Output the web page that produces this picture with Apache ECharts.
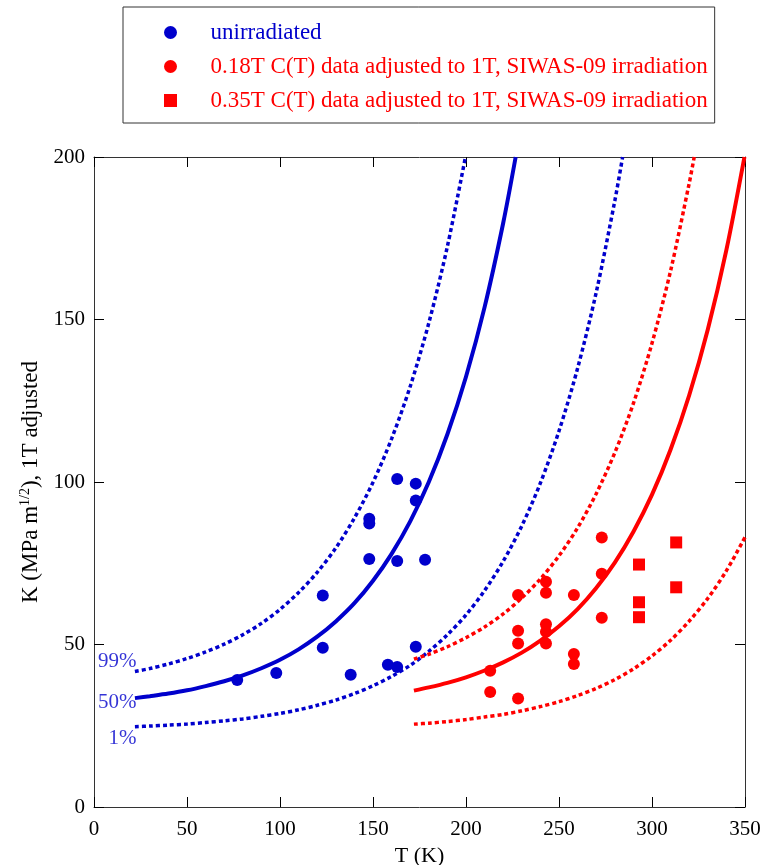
<!DOCTYPE html>
<html>
<head>
<meta charset="utf-8">
<script src="https://cdn.jsdelivr.net/npm/echarts@6/dist/echarts.min.js"></script>
<style>
html,body{margin:0;padding:0;background:#fff;}
#chart{width:763px;height:865px;}
</style>
</head>
<body>
<div id="chart"></div>
<script>
/*****  data  *****/
var xTicks = [0, 50, 100, 150, 200, 250, 300, 350];
var yTicks = [0, 50, 100, 150, 200];

// master curves, unirradiated (blue) : [T, K]
var blue50 = [[22,33.5],[30,34.1],[40,34.9],[50,35.9],[60,37.2],[70,38.7],[80,40.5],[90,42.7],[100,45.3],[110,48.5],[120,52.4],[130,57.1],[140,62.7],[150,69.6],[160,77.9],[170,87.9],[180,100],[190,114.7],[200,132.4],[210,153.8],[220,179.7],[226.7,200]];
var blue99 = [[22,41.7],[30,42.6],[40,44.0],[50,45.7],[60,47.7],[70,50.1],[80,53.0],[90,56.5],[100,60.8],[110,66.0],[120,72.2],[130,79.7],[140,88.9],[150,99.9],[160,113.3],[170,129.4],[180,148.9],[190,172.5],[199.7,200]];
var blue1 = [[22,24.7],[30,24.9],[40,25.2],[50,25.5],[60,26.0],[70,26.5],[80,27.1],[90,27.9],[100,28.8],[110,29.9],[120,31.3],[130,32.9],[140,34.9],[150,37.3],[160,40.2],[170,43.6],[180,47.9],[190,53.0],[200,59.1],[210,66.6],[220,75.6],[230,86.5],[240,99.7],[250,115.7],[260,135.0],[270,158.3],[280,186.5],[284.2,200]];

// master curves, irradiated (red)
var red50 = [[172,35.8],[180,36.8],[190,38.2],[200,39.9],[210,42.0],[220,44.5],[230,47.5],[240,51.2],[250,55.6],[260,60.9],[270,67.4],[280,75.2],[290,84.7],[300,96.1],[310,110.0],[320,126.7],[330,146.9],[340,171.4],[349.7,200]];
var red99 = [[172,45.5],[180,47.0],[190,49.3],[200,52.1],[210,55.4],[220,59.4],[230,64.3],[240,70.2],[250,77.3],[260,85.9],[270,96.4],[280,109.0],[290,124.2],[300,142.7],[310,165.0],[320,191.9],[322.7,200]];
var red1 = [[172,25.5],[180,25.8],[190,26.3],[200,26.9],[210,27.7],[220,28.5],[230,29.6],[240,30.9],[250,32.4],[260,34.3],[270,36.5],[280,39.2],[290,42.5],[300,46.5],[310,51.3],[320,57.2],[330,64.2],[340,72.7],[350,83.0]];

// measured points
var unirr = [[77,39.1],[98,41.2],[123,65.1],[123,49.0],[138,40.7],[148,88.7],[148,87.2],[148,76.3],[158,43.8],[163,100.9],[163,75.7],[163,43.1],[173,99.5],[173,94.3],[173,49.3],[178,76.1]];
var irr018 = [[213,41.9],[213,35.4],[228,65.2],[228,54.2],[228,50.3],[228,33.4],[243,69.3],[243,65.9],[243,56.2],[243,53.9],[243,50.3],[258,65.2],[258,47.1],[258,44.0],[273,82.9],[273,71.8],[273,58.2]];
var irr035 = [[293,74.6],[293,63.0],[293,58.4],[313,81.4],[313,67.6]];

var pctNames = ['99%', '50%', '1%'];
var pctAt = [[22,41.7],[22,33.5],[22,24.7]];

var names = ['unirradiated',
	'0.18T C(T) data adjusted to 1T, SIWAS-09 irradiation',
	'0.35T C(T) data adjusted to 1T, SIWAS-09 irradiation'];

/*****  chart  *****/
var BLUE = '#0000cc';
var RED = '#ff0000';
var FONT = '"Liberation Serif", "DejaVu Serif", serif';
var pctOffsets = [[2,-10],[2,4],[2,12]];

var chart = echarts.init(document.getElementById('chart'));

function curve(data, color, dotted){
	return {
		type: 'line',
		data: data,
		showSymbol: false,
		symbol: 'none',
		smooth: 0.3,
		silent: true,
		z: 2,
		lineStyle: {
			color: color,
			width: dotted ? 3.5 : 4,
			type: dotted ? [4, 3] : 'solid'
		}
	};
}

var pctData = [];
for (var i = 0; i < pctNames.length; i++) {
	pctData.push({
		value: pctAt[i],
		name: pctNames[i],
		label: {offset: pctOffsets[i]}
	});
}

function baseX(pos, show){
	return {
		type: 'value', position: pos, min: 0, max: 350, interval: 50,
		axisLine: {show: true, onZero: false, lineStyle: {color: '#333', width: 1}},
		axisTick: {show: true, inside: true, length: 10, lineStyle: {color: '#000'}},
		axisLabel: {show: show, color: '#000', fontSize: 21, fontFamily: FONT, margin: 12},
		splitLine: {show: false}
	};
}
function baseY(pos, show){
	return {
		type: 'value', position: pos, min: 0, max: 200, interval: 50,
		axisLine: {show: true, onZero: false, lineStyle: {color: '#333', width: 1}},
		axisTick: {show: true, inside: true, length: 10, lineStyle: {color: '#000'}},
		axisLabel: {show: show, color: '#000', fontSize: 21, fontFamily: FONT, margin: 9},
		splitLine: {show: false}
	};
}

var xMain = baseX('bottom', true);
xMain.name = 'T (K)';
xMain.nameLocation = 'middle';
xMain.nameGap = 35;
xMain.nameTextStyle = {color: '#000', fontSize: 22, fontFamily: FONT};

var yMain = baseY('left', true);
yMain.name = 'K (MPa m{sup|1/2}), 1T adjusted';
yMain.nameLocation = 'middle';
yMain.nameGap = 48;
yMain.nameTextStyle = {
	color: '#000', fontSize: 23, fontFamily: FONT,
	rich: {sup: {fontSize: 14, fontFamily: FONT, color: '#000', padding: [0, 0, 11, 0]}}
};

option = {
	backgroundColor: '#fff',
	animation: false,
	grid: {left: 94, right: 18, top: 157, bottom: 58, containLabel: false, outerBoundsMode: 'none'},
	legend: {
		orient: 'vertical',
		left: 123,
		top: 7,
		padding: [14, 7, 11, 41],
		itemGap: 11,
		itemWidth: 70,
		itemHeight: 13,
		selectedMode: false,
		borderColor: '#333',
		borderWidth: 1,
		textStyle: {fontSize: 23, fontFamily: FONT},
		data: [
			{name: names[0], icon: 'circle', textStyle: {color: BLUE}},
			{name: names[1], icon: 'circle', textStyle: {color: RED}},
			{name: names[2], icon: 'path://M0,0L10,0L10,10L0,10Z', textStyle: {color: RED}}
		]
	},
	xAxis: [xMain, baseX('top', false)],
	yAxis: [yMain, baseY('right', false)],
	series: [
		curve(blue99, BLUE, true),
		curve(blue50, BLUE, false),
		curve(blue1, BLUE, true),
		curve(red99, RED, true),
		curve(red50, RED, false),
		curve(red1, RED, true),
		{
			name: names[0], type: 'scatter', symbol: 'circle', symbolSize: 12,
			itemStyle: {color: BLUE, opacity: 1}, z: 5, data: unirr
		},
		{
			name: names[1], type: 'scatter', symbol: 'circle', symbolSize: 12,
			itemStyle: {color: RED, opacity: 1}, z: 5, data: irr018
		},
		{
			name: names[2], type: 'scatter', symbol: 'rect', symbolSize: 12,
			itemStyle: {color: RED, opacity: 1}, z: 5, data: irr035
		},
		{
			type: 'scatter', symbolSize: 1, silent: true, z: 6,
			itemStyle: {color: 'rgba(0,0,0,0)'},
			label: {
				show: true, position: 'left', distance: 0,
				formatter: '{b}', color: BLUE, fontSize: 21, fontFamily: FONT
			},
			data: pctData
		}
	]
};

chart.setOption(option);
</script>
</body>
</html>
